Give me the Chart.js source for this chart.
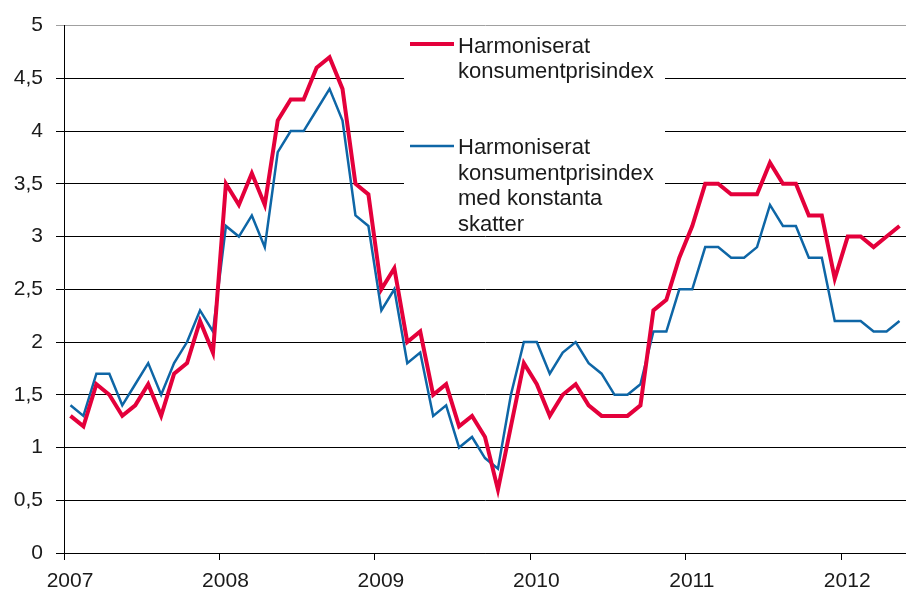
<!DOCTYPE html>
<html>
<head>
<meta charset="utf-8">
<script src="https://cdn.jsdelivr.net/npm/chart.js@4.4.1/dist/chart.umd.min.js"></script>
<style>
  html, body { margin: 0; padding: 0; background: #fff; }
  #wrap { width: 906px; height: 601px; }
</style>
</head>
<body>
<div id="wrap"><canvas id="lineChart" width="906" height="601"></canvas></div>
<script>
// monthly values, Jan 2007 - May 2012
const years = ["2007", "2008", "2009", "2010", "2011", "2012"];
const yTicks = [0, 0.5, 1, 1.5, 2, 2.5, 3, 3.5, 4, 4.5, 5];

const hicp = [
  1.3, 1.2, 1.6, 1.5, 1.3, 1.4, 1.6, 1.3, 1.7, 1.8, 2.2, 1.9,
  3.5, 3.3, 3.6, 3.3, 4.1, 4.3, 4.3, 4.6, 4.7, 4.4, 3.5, 3.4,
  2.5, 2.7, 2.0, 2.1, 1.5, 1.6, 1.2, 1.3, 1.1, 0.6, 1.2, 1.8,
  1.6, 1.3, 1.5, 1.6, 1.4, 1.3, 1.3, 1.3, 1.4, 2.3, 2.4, 2.8,
  3.1, 3.5, 3.5, 3.4, 3.4, 3.4, 3.7, 3.5, 3.5, 3.2, 3.2, 2.6,
  3.0, 3.0, 2.9, 3.0, 3.1
];
const hicpConstTax = [
  1.4, 1.3, 1.7, 1.7, 1.4, 1.6, 1.8, 1.5, 1.8, 2.0, 2.3, 2.1,
  3.1, 3.0, 3.2, 2.9, 3.8, 4.0, 4.0, 4.2, 4.4, 4.1, 3.2, 3.1,
  2.3, 2.5, 1.8, 1.9, 1.3, 1.4, 1.0, 1.1, 0.9, 0.8, 1.5, 2.0,
  2.0, 1.7, 1.9, 2.0, 1.8, 1.7, 1.5, 1.5, 1.6, 2.1, 2.1, 2.5,
  2.5, 2.9, 2.9, 2.8, 2.8, 2.9, 3.3, 3.1, 3.1, 2.8, 2.8, 2.2,
  2.2, 2.2, 2.1, 2.1, 2.2
];
const seriesNames = [
  ["Harmoniserat", "konsumentprisindex"],
  ["Harmoniserat", "konsumentprisindex", "med konstanta", "skatter"]
];

const RED = "#e4003b";
const BLUE = "#0e66a6";
const FONT = "'Liberation Sans', Arial, sans-serif";

const toPoints = arr => arr.map((v, i) => ({ x: i, y: v }));

// legend box drawn inside the plot, covering the grid lines
const boxLegend = {
  id: "boxLegend",
  beforeDatasetsDraw(chart) {
    const ctx = chart.ctx;
    ctx.save();
    ctx.fillStyle = "#fff";
    ctx.fillRect(404, 29, 261, 203);
    ctx.restore();
  },
  afterDatasetsDraw(chart) {
    const ctx = chart.ctx;
    const blocks = [
      { top: 44, base: 52.5, ds: chart.data.datasets[0] },
      { top: 146, base: 154, ds: chart.data.datasets[1] }
    ];
    ctx.save();
    ctx.font = "22px " + FONT;
    ctx.fillStyle = "#1a1a1a";
    ctx.textBaseline = "alphabetic";
    blocks.forEach(b => {
      ctx.strokeStyle = b.ds.borderColor;
      ctx.lineWidth = b.ds.borderWidth;
      ctx.beginPath();
      ctx.moveTo(410, b.top);
      ctx.lineTo(454, b.top);
      ctx.stroke();
      b.ds.legendLines.forEach((t, k) => {
        ctx.fillText(t, 458, b.base + k * 25.5);
      });
    });
    ctx.restore();
  }
};

const CHART = document.getElementById("lineChart");
let lineChart = new Chart(CHART, {
  type: "line",
  data: {
    datasets: [
      {
        label: seriesNames[0].join(" "),
        legendLines: seriesNames[0],
        data: toPoints(hicp),
        borderColor: RED,
        borderWidth: 4,
        pointRadius: 0,
        fill: false,
        tension: 0
      },
      {
        label: seriesNames[1].join(" "),
        legendLines: seriesNames[1],
        data: toPoints(hicpConstTax),
        borderColor: BLUE,
        borderWidth: 2.5,
        pointRadius: 0,
        fill: false,
        tension: 0
      }
    ]
  },
  options: {
    responsive: false,
    animation: false,
    layout: { padding: { top: 24, right: 0, left: 0, bottom: 0 } },
    plugins: {
      legend: { display: false },
      tooltip: { enabled: false }
    },
    scales: {
      x: {
        type: "linear",
        min: -0.5,
        max: 64.5,
        afterBuildTicks: ax => {
          ax.ticks = years.map((y, i) => ({ value: -0.5 + 12 * i }));
        },
        afterFit: s => { s.height = 48; },
        ticks: {
          autoSkip: false,
          maxRotation: 0,
          padding: 9,
          labelOffset: 6,
          color: "#1a1a1a",
          font: { family: FONT, size: 21 },
          callback: (v, i) => years[i]
        },
        grid: { drawOnChartArea: false, drawTicks: true, tickLength: 7, color: "#000" },
        border: { color: "#000", width: 1 }
      },
      y: {
        min: 0,
        max: 5,
        afterBuildTicks: ax => {
          ax.ticks = yTicks.map(v => ({ value: v }));
        },
        afterFit: s => { s.width = 64; },
        ticks: {
          padding: 13,
          color: "#1a1a1a",
          font: { family: FONT, size: 21 },
          callback: v => String(v).replace(".", ",")
        },
        grid: {
          color: ctx => (ctx.tick && ctx.tick.value === 5 ? "#a0a0a0" : "#000"),
          lineWidth: 1,
          tickLength: 8
        },
        border: { color: "#000", width: 1 }
      }
    }
  },
  plugins: [boxLegend]
});
</script>
</body>
</html>
